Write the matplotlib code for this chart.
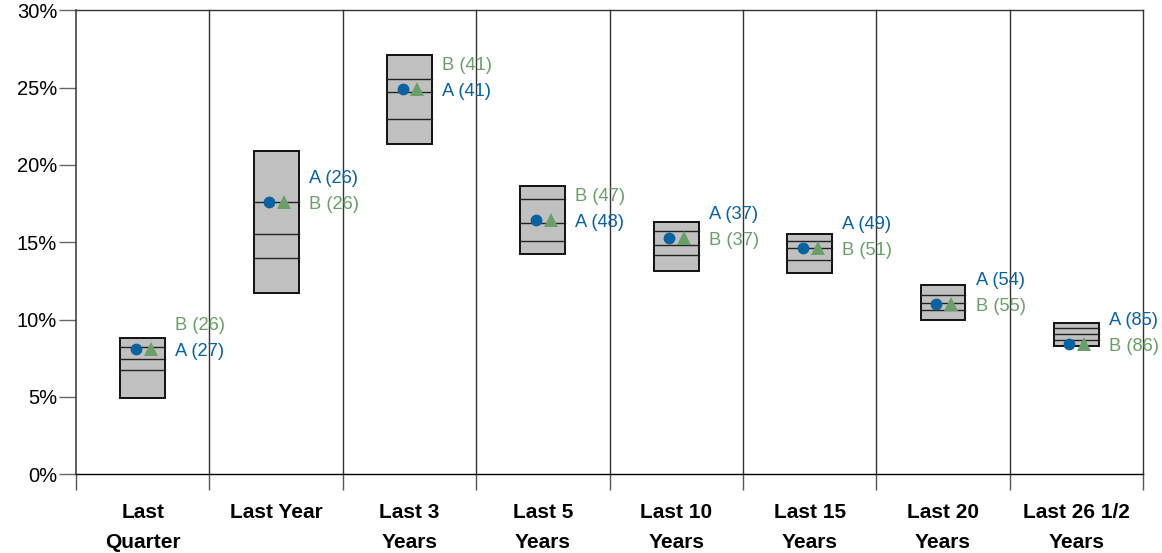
import matplotlib
matplotlib.use("Agg")
import matplotlib.pyplot as plt
from matplotlib.patches import Rectangle

plt.rcParams['font.family'] = ['Liberation Sans', 'DejaVu Sans']

categories = ["Last\nQuarter", "Last Year", "Last 3\nYears", "Last 5\nYears",
              "Last 10\nYears", "Last 15\nYears", "Last 20\nYears", "Last 26 1/2\nYears"]
p05 = [8.79, 20.92, 27.08, 18.66, 16.29, 15.55, 12.24, 9.80]
p25 = [8.25, 17.60, 25.57, 17.80, 15.73, 15.08, 11.57, 9.48]
p50 = [7.47, 15.51, 24.71, 16.26, 14.80, 14.63, 11.09, 9.09]
p75 = [6.72, 13.96, 22.97, 15.06, 14.18, 13.86, 10.62, 8.68]
p95 = [4.93, 11.70, 21.37, 14.22, 13.15, 13.03, 9.95, 8.29]
a_vals = [8.10, 17.60, 24.89, 16.44, 15.27, 14.65, 11.03, 8.42]
b_vals = [8.12, 17.60, 24.90, 16.45, 15.27, 14.63, 11.02, 8.40]
a_rank = [27, 26, 41, 48, 37, 49, 54, 85]
b_rank = [26, 26, 41, 47, 37, 51, 55, 86]
top_label = ["B", "A", "B", "B", "A", "A", "A", "A"]
yticks = [0, 5, 10, 15, 20, 25, 30]

BLUE = "#0a62a0"
GREEN = "#6a9f6a"

fig = plt.figure(figsize=(11.62, 5.53), dpi=100)
ax = fig.add_axes([0.0654, 0.1423, 0.9183, 0.8391])
ax.set_xlim(-0.5, len(categories) - 0.5)
ax.set_ylim(0, 30)

box_w = 0.337
for i in range(len(categories)):
    ax.add_patch(Rectangle((i - box_w / 2, p95[i]), box_w, p05[i] - p95[i],
                           facecolor="#c0c0c0", edgecolor="#111111", lw=1.4, zorder=3))
    for v in (p25[i], p50[i], p75[i]):
        ax.plot([i - box_w / 2, i + box_w / 2], [v, v], color="#222222", lw=1.0, zorder=4)

xs = list(range(len(categories)))
ax.plot([x - 0.052 for x in xs], a_vals, 'o', color=BLUE, ms=8.5, mew=0, zorder=5)
ax.plot([x + 0.06 for x in xs], b_vals, '^', color=GREEN, ms=10, mew=0, zorder=5)

for i in range(len(categories)):
    lab_a = f"A ({a_rank[i]})"
    lab_b = f"B ({b_rank[i]})"
    if top_label[i] == "A":
        upper, ucol, lower, lcol = lab_a, BLUE, lab_b, GREEN
    else:
        upper, ucol, lower, lcol = lab_b, GREEN, lab_a, BLUE
    yref = a_vals[i]
    ax.annotate(lower, (i, yref), xytext=(23.5, -1.8), textcoords='offset points',
                color=lcol, fontsize=13.2, va='center', ha='left', zorder=6)
    ax.annotate(upper, (i, yref), xytext=(23.5, 16.9), textcoords='offset points',
                color=ucol, fontsize=13.2, va='center', ha='left', zorder=6)

# category dividers
for b in range(len(categories)):
    xb = b + 0.5
    ax.axvline(xb, color="#333333", lw=1.0, zorder=1, clip_on=False)
ax.set_xticks([b - 0.5 for b in range(len(categories) + 1)], minor=True)
ax.tick_params(axis='x', which='minor', length=11.5, width=1.0, color="#555555", direction='out')
ax.set_xticks(xs)
ax.set_xticklabels(categories, fontsize=15, fontweight='bold', linespacing=1.72)
ax.tick_params(axis='x', which='major', length=0, pad=21)

ax.set_yticks(yticks)
ax.set_yticklabels([f"{v}%" for v in yticks], fontsize=14.5)
ax.tick_params(axis='y', length=12, width=1.0, color="#666666", pad=1.5)

ax.spines['right'].set_visible(False)
ax.spines['top'].set_color("#333333")
ax.spines['top'].set_linewidth(1.0)
ax.spines['left'].set_color("#444444")
ax.spines['left'].set_linewidth(1.2)
ax.spines['bottom'].set_color("#000000")
ax.spines['bottom'].set_linewidth(1.0)

fig.savefig("out.png", dpi=100)
